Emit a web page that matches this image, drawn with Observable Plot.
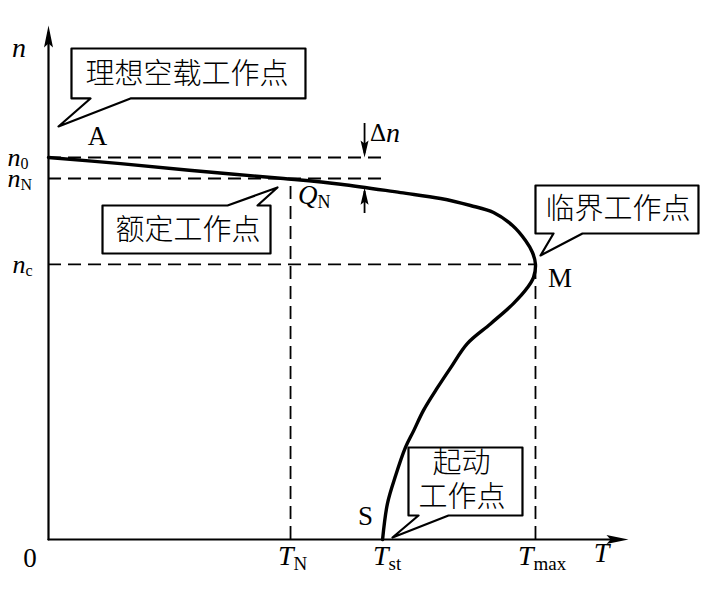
<!DOCTYPE html>
<html><head><meta charset="utf-8">
<script src="https://cdn.jsdelivr.net/npm/d3@7"></script>
<script src="https://cdn.jsdelivr.net/npm/@observablehq/plot@0.6"></script>
<style>body{margin:0;background:#fff}</style>
</head><body><div id="chart"></div>
<script>
// Mechanical characteristic n = f(T); T normalised so T_max = 1, n normalised so n0 = 1
const curveT = [0, 0.148, 0.312, 0.4825, 0.600, 0.723, 0.805, 0.8665, 0.9138, 0.9528, 0.9795, 0.9938, 1.0, 0.996, 0.984, 0.955, 0.908, 0.860, 0.826, 0.799, 0.770, 0.750, 0.733, 0.713, 0.696, 0.686];
const curveN = [1.0, 0.984, 0.964, 0.945, 0.930, 0.908, 0.8927, 0.8743, 0.8560, 0.8220, 0.7827, 0.7513, 0.720, 0.686, 0.660, 0.618, 0.565, 0.513, 0.450, 0.398, 0.338, 0.285, 0.241, 0.168, 0.094, 0];

// speed levels
const speedMain = ["n", "n", "n"];
const speedSub = ["0", "N", "c"];
const speedValues = [1.0, 0.945, 0.72];
const speedLabelT = [-0.0575, -0.0575, -0.0472];

// torque ticks
const torqueMain = ["T", "T", "T"];
const torqueSub = ["N", "st", "max"];
const torqueValues = [0.497, 0.686, 1.0];
const torqueLabelT = [0.5031, 0.6982, 0.9959];
const torqueLabelN = -0.042;

// dashed guide extents
const guideEndT = [0.698, 0.698, 1.0];
const guideEndN = [0.945, 0.72];

// axis extents
const axisTmax = 1.191;
const axisNmax = 1.3455;

// callouts (polygon vertices in data units)
const calloutA_T = [0.0472, 0.5277, 0.5277, 0.1684, 0.0205, 0.0862, 0.0472];
const calloutA_N = [1.2853, 1.2853, 1.1545, 1.1545, 1.0812, 1.1545, 1.1545];
const calloutQ_T = [0.1109, 0.3676, 0.4702, 0.4292, 0.4559, 0.4559, 0.1109];
const calloutQ_N = [0.8743, 0.8743, 0.9215, 0.8743, 0.8743, 0.7487, 0.7487];
const calloutM_T = [1.0, 1.3347, 1.3347, 1.0965, 1.0103, 1.037, 1.0];
const calloutM_N = [0.9267, 0.9267, 0.801, 0.801, 0.7435, 0.801, 0.801];
const calloutS_T = [0.7392, 0.9733, 0.9733, 0.8214, 0.7064, 0.7598, 0.7392];
const calloutS_N = [0.2408, 0.2408, 0.0628, 0.0628, 0.0052, 0.0628, 0.0628];

const calloutText = ["理想空载工作点", "额定工作点", "临界工作点", "起动", "工作点"];
const calloutTextT = [0.2844, 0.2864, 1.1694, 0.8480, 0.8490];
const calloutTextN = [1.216, 0.8089, 0.8639, 0.1990, 0.1100];

// point letters
const pointText = ["A", "M", "S", "0"];
const pointT = [0.1006, 1.0503, 0.6509, -0.038];
const pointN = [1.055, 0.6846, 0.0602, -0.0497];

// Δn marker
const deltaT = 0.649;
const deltaTopN = 1.089;
const deltaBottomN = 0.8534;
const deltaCurveN = 0.921;

const curve = curveT.map((t, i) => ({T: t, n: curveN[i]}));
const callouts = [
  [calloutA_T, calloutA_N], [calloutQ_T, calloutQ_N],
  [calloutM_T, calloutM_N], [calloutS_T, calloutS_N]
].flatMap(([ts, ns], k) => ts.map((t, i) => ({id: k, T: t, n: ns[i]})));
const calloutLabels = calloutText.map((s, i) => ({s, T: calloutTextT[i], n: calloutTextN[i]}));
const points = pointText.map((s, i) => ({s, T: pointT[i], n: pointN[i]}));
const speedLabels = speedMain.map((m, i) => ({m, sub: speedSub[i], T: speedLabelT[i], n: speedValues[i]}));
const torqueLabels = torqueMain.map((m, i) => ({m, sub: torqueSub[i], T: torqueLabelT[i], n: torqueLabelN}));

const headUp = {draw(c) { c.moveTo(0, 0); c.lineTo(4.5, 22); c.lineTo(0, 18); c.lineTo(-4.5, 22); c.closePath(); }};
const headRight = {draw(c) { c.moveTo(0, 0); c.lineTo(-22, 4.5); c.lineTo(-18, 0); c.lineTo(-22, -4.5); c.closePath(); }};
const smallUp = {draw(c) { c.moveTo(0, 0); c.lineTo(4, 17); c.lineTo(0, 14); c.lineTo(-4, 17); c.closePath(); }};
const smallDown = {draw(c) { c.moveTo(0, 0); c.lineTo(4, -17); c.lineTo(0, -14); c.lineTo(-4, -17); c.closePath(); }};

const serif = "'Liberation Serif', 'Times New Roman', serif";
const cjk = "'Noto Sans CJK SC', sans-serif";
const dash = "13,7";

const chart = Plot.plot({
  width: 715, height: 589,
  marginLeft: 48, marginRight: 87, marginTop: 25, marginBottom: 50,
  x: {domain: [0, axisTmax], axis: null},
  y: {domain: [0, axisNmax], axis: null},
  style: {background: "white"},
  marks: [
    // dashed guides
    Plot.ruleY(speedValues, {x1: 0, x2: guideEndT, stroke: "black", strokeWidth: 1.8, strokeDasharray: dash}),
    Plot.ruleX(torqueValues.filter((d, i) => i !== 1), {y1: 0, y2: guideEndN, stroke: "black", strokeWidth: 1.8, strokeDasharray: dash}),
    // axes
    Plot.line([[0, 0], [axisTmax - 0.02, 0]], {stroke: "black", strokeWidth: 2.2}),
    Plot.line([[0, 0], [0, axisNmax - 0.02]], {stroke: "black", strokeWidth: 2.2}),
    Plot.dot([[0, axisNmax]], {symbol: headUp, fill: "black", stroke: "none", r: 5}),
    Plot.dot([[axisTmax, 0]], {symbol: headRight, fill: "black", stroke: "none", r: 5}),
    // characteristic curve
    Plot.line(curve, {x: "T", y: "n", curve: "catmull-rom", stroke: "black", strokeWidth: 3.4}),
    // Δn arrows
    Plot.ruleX([deltaT], {y1: deltaTopN, y2: 1.01, stroke: "black", strokeWidth: 1.8}),
    Plot.dot([[deltaT, 1.0]], {symbol: smallDown, fill: "black", stroke: "none", r: 4}),
    Plot.ruleX([deltaT], {y1: deltaBottomN, y2: deltaCurveN - 0.01, stroke: "black", strokeWidth: 1.8}),
    Plot.dot([[deltaT, deltaCurveN]], {symbol: smallUp, fill: "black", stroke: "none", r: 4}),
    // callouts
    Plot.line(callouts, {x: "T", y: "n", z: "id", curve: "linear-closed", fill: "white", stroke: "black", strokeWidth: 2.2}),
    Plot.text(calloutLabels, {x: "T", y: "n", text: "s", fontFamily: cjk, fontWeight: 300, fontSize: 29, fill: "black"}),
    // point letters
    Plot.text(points, {x: "T", y: "n", text: "s", fontFamily: serif, fontSize: 27, fill: "black"}),
    // axis names
    Plot.text([[-0.0606, 1.2853]], {text: ["n"], fontFamily: serif, fontStyle: "italic", fontSize: 28, fill: "black"}),
    Plot.text([[1.1355, -0.0366]], {text: ["T"], fontFamily: serif, fontStyle: "italic", fontSize: 28, fill: "black"}),
    // speed level labels
    Plot.text(speedLabels, {x: "T", y: "n", text: "m", textAnchor: "end", fontFamily: serif, fontStyle: "italic", fontSize: 26, fill: "black"}),
    Plot.text(speedLabels, {x: "T", y: "n", text: "sub", textAnchor: "start", dy: 6, fontFamily: serif, fontSize: 16, fill: "black"}),
    // torque labels
    Plot.text(torqueLabels, {x: "T", y: "n", text: "m", textAnchor: "end", fontFamily: serif, fontStyle: "italic", fontSize: 28, fill: "black"}),
    Plot.text(torqueLabels, {x: "T", y: "n", text: "sub", textAnchor: "start", dy: 8, fontFamily: serif, fontSize: 19, fill: "black"}),
    // Q_N
    Plot.text([[0.5524, 0.9005]], {text: ["Q"], textAnchor: "end", fontFamily: serif, fontStyle: "italic", fontSize: 27, fill: "black"}),
    Plot.text([[0.5524, 0.9005]], {text: ["N"], textAnchor: "start", dy: 7, fontFamily: serif, fontSize: 18, fill: "black"}),
    // Δn
    Plot.text([[0.693, 1.0628]], {text: ["Δ"], textAnchor: "end", fontFamily: serif, fontSize: 25, fill: "black"}),
    Plot.text([[0.693, 1.0628]], {text: ["n"], textAnchor: "start", fontFamily: serif, fontStyle: "italic", fontSize: 28, fill: "black"})
  ]
});
document.getElementById("chart").appendChild(chart);
</script>
</body></html>
